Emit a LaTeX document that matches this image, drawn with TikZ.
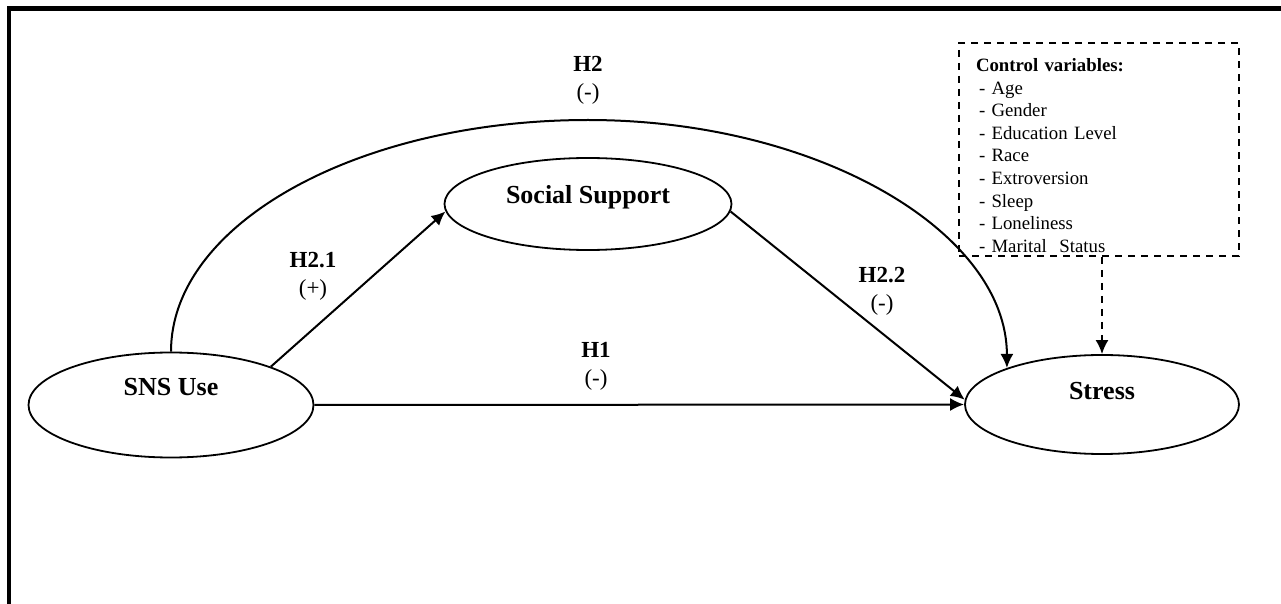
\documentclass[tikz,border=0pt]{standalone}
\usepackage{fontspec}
\setmainfont{Liberation Serif}
\usepackage{tikz}
\usetikzlibrary{shapes.geometric, arrows.meta}

\begin{document}
\begin{tikzpicture}[x=0.5pt, y=-0.5pt]
    \tikzstyle{latent} = [ellipse, draw, line width=0.9pt, text height=8pt, font=\fontsize{13}{15}\selectfont\bfseries]
    \tikzstyle{hyp} = [align=center, font=\fontsize{11.5}{14}\selectfont]
    \tikzstyle{ctrlbox} = [rectangle, draw, line width=1pt, dash pattern=on 3.5pt off 3pt, anchor=north west, inner xsep=8.5pt, inner ysep=0pt, text width=123pt, minimum width=140pt, minimum height=106.5pt, align=left, font=\fontsize{9.4}{11.3}\selectfont]
    \tikzstyle{line} = [draw, line width=1pt, -{Latex[length=7pt,width=6.5pt]}]

    \useasboundingbox (0,0) rectangle (1281,604);
    \draw [line width=2.2pt] (1281,8.5) -- (9,8.5) -- (9,604);

    \node [latent, minimum width=142.5pt, minimum height=52.5pt, text depth=17.4pt] (sns) at (171,405) {SNS Use};
    \node [latent, minimum width=143.5pt, minimum height=46pt, text depth=8.4pt] (soc) at (588,204) {Social Support};
    \node [latent, minimum width=137pt, minimum height=49.5pt, text depth=13.4pt] (stress) at (1102,404.5) {Stress};
    \node [ctrlbox] (ctrl) at (958,42) {\rule{0pt}{12.5pt}\textbf{Control variables:}\\
        \hspace*{1.5pt}- Age\\
        \hspace*{1.5pt}- Gender\\
        \hspace*{1.5pt}- Education Level\\
        \hspace*{1.5pt}- Race\\
        \hspace*{1.5pt}- Extroversion\\
        \hspace*{1.5pt}- Sleep\\
        \hspace*{1.5pt}- Loneliness\\
        \hspace*{1.5pt}- Marital\ \ Status};
    \coordinate (h2top) at (588,120);

    \node [hyp] (h2lab) at (588,80) {\textbf{H2}\\(-)};
    \node [hyp] (h1lab) at (596,366) {\textbf{H1}\\(-)};
    \node [hyp] (h21lab) at (313,276) {\textbf{H2.1}\\(+)};
    \node [hyp] (h22lab) at (882,291) {\textbf{H2.2}\\(-)};

    \path [line] (sns.east) -- (stress.west);
    \path [line] (sns.21) -- (soc.183);
    \path [line] (soc.-3) -- (stress.178);
    \path [line] (sns.north) .. controls +(0,-128) and +(-230,0) .. (h2top) .. controls +(230,0) and +(0,-136) .. (stress.159);
    \path [line, dash pattern=on 3.5pt off 3pt] (ctrl.south -| stress.north) -- (stress.north);
\end{tikzpicture}
\end{document}
